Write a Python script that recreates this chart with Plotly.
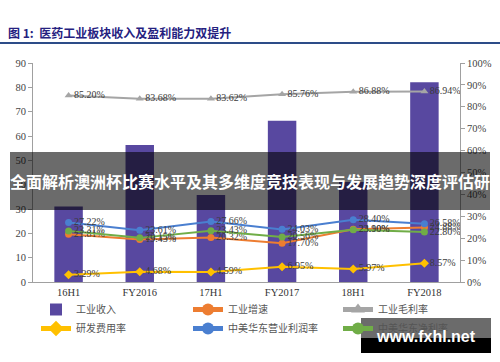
import plotly.graph_objects as go

# ---------------- data ----------------
categories = ["16H1", "FY2016", "17H1", "FY2017", "18H1", "FY2018"]
revenue = [31.0, 56.3, 35.8, 66.3, 41.1, 82.1]              # 工业收入 (left axis)
growth = [21.81, 19.43, 20.32, 17.70, 24.10, 24.88]         # 工业增速 (%)
gross_margin = [85.20, 83.68, 83.62, 85.76, 86.88, 86.94]   # 工业毛利率 (%)
rd_ratio = [3.29, 4.68, 4.59, 6.95, 5.97, 8.57]             # 研发费用率 (%)
op_margin = [27.22, 23.61, 27.66, 24.03, 28.40, 26.58]      # 中美华东营业利润率 (%)
net_margin = [23.31, 20.15, 23.43, 20.56, 23.90, 22.80]     # 中美华东净利率 (%)

left_ticks = [0, 10, 20, 30, 40, 50, 60, 70, 80, 90]
right_ticks = [0, 10, 20, 30, 40, 50, 60, 70, 80, 90, 100]
right_tick_labels = [f"{v}%" for v in right_ticks]

title_text = "图 1:  医药工业板块收入及盈利能力双提升"
banner_text = "全面解析澳洲杯比赛水平及其多维度竞技表现与发展趋势深度评估研"
watermark_text = "www.fxhl.net"

# ---------------- layout helpers (pixel -> paper) ----------------
W, H = 500, 362
L, R, T, B = 33, 40, 63, 80
PW, PH = W - L - R, H - T - B


def px(x):
    return (x - L) / PW


def py(y):
    return (H - B - y) / PH


SERIF = "Liberation Serif, Times New Roman, serif"
CJK = "Noto Sans CJK SC, sans-serif"

fig = go.Figure()

fig.add_trace(go.Bar(
    x=categories, y=revenue, name="工业收入",
    marker=dict(color="#5848a0", line=dict(width=0)),
    width=0.4, yaxis="y", legend="legend",
))


def line_trace(vals, name, color, symbol, legend, msize=7):
    return go.Scatter(
        x=categories, y=vals, name=name, yaxis="y2", legend=legend,
        mode="lines+markers+text",
        line=dict(color=color, width=2),
        marker=dict(color=color, size=msize, symbol=symbol),
        text=[f"{v:.2f}%" for v in vals],
        textposition="middle right",
        textfont=dict(family=SERIF, size=10, color="#3a3a3a"),
        cliponaxis=False,
    )


fig.add_trace(line_trace(growth, "工业增速", "#ed7d31", "circle", "legend2"))
fig.add_trace(line_trace(gross_margin, "工业毛利率", "#a5a5a5", "triangle-up", "legend3"))
fig.add_trace(line_trace(rd_ratio, "研发费用率", "#ffc000", "diamond", "legend"))
fig.add_trace(line_trace(op_margin, "中美华东营业利润率", "#4a7fd0", "circle", "legend2"))
fig.add_trace(line_trace(net_margin, "中美华东净利率", "#70ad47", "circle", "legend3"))

legend_common = dict(
    orientation="v", xanchor="left", yanchor="top",
    font=dict(family=CJK, size=10, color="#555555"),
    bgcolor="rgba(0,0,0,0)", itemsizing="constant",
    traceorder="normal", tracegroupgap=0,
)

fig.update_layout(
    width=W, height=H,
    margin=dict(l=L, r=R, t=T, b=B, pad=0, autoexpand=False),
    paper_bgcolor="white", plot_bgcolor="white",
    showlegend=True,
    bargap=0.6,
    xaxis=dict(
        showline=True, linecolor="#a0a0a0", linewidth=1,
        showgrid=False, ticks="",
        tickfont=dict(family=SERIF, size=10.5, color="#333333"),
    ),
    yaxis=dict(
        range=[0, 90], tickvals=left_ticks,
        showline=True, linecolor="#a0a0a0", linewidth=1,
        showgrid=False, zeroline=False,
        ticks="outside", ticklen=4, tickcolor="#a0a0a0",
        tickfont=dict(family=SERIF, size=10.5, color="#444444"),
    ),
    yaxis2=dict(
        range=[0, 100], tickmode="array", tickvals=right_ticks,
        ticktext=right_tick_labels,
        overlaying="y", side="right",
        showline=True, linecolor="#a0a0a0", linewidth=1,
        showgrid=False, zeroline=False,
        ticks="outside", ticklen=4, tickcolor="#a0a0a0",
        tickfont=dict(family=SERIF, size=10.5, color="#444444"),
    ),
    legend=dict(x=px(36), y=py(295), **legend_common),
    legend2=dict(x=px(188), y=py(295), **legend_common),
    legend3=dict(x=px(338), y=py(295), **legend_common),
)

# title + rule
fig.add_annotation(
    xref="paper", yref="paper", x=px(6), y=py(33),
    xanchor="left", yanchor="middle", showarrow=False,
    text=f"<b>{title_text}</b>",
    font=dict(family=CJK, size=12, color="#25217f"),
)
fig.add_shape(type="line", xref="paper", yref="paper",
              x0=px(0), x1=px(500), y0=py(43), y1=py(43),
              line=dict(color="#2d4c88", width=2))

# banner overlay
fig.add_shape(type="rect", xref="paper", yref="paper",
              x0=px(10), x1=px(490), y0=py(210), y1=py(152),
              fillcolor="rgba(0,0,0,0.58)", line=dict(width=0), layer="above")
fig.add_annotation(
    xref="paper", yref="paper", x=px(250), y=py(181),
    xanchor="center", yanchor="middle", showarrow=False,
    text=f"<b>{banner_text}</b>",
    font=dict(family=CJK, size=16, color="white"),
)

# watermark
fig.add_shape(type="rect", xref="paper", yref="paper",
              x0=px(361), x1=px(491), y0=py(338), y1=py(318),
              fillcolor="rgba(0,0,0,0.58)", line=dict(width=0), layer="above")
fig.add_shape(type="rect", xref="paper", yref="paper",
              x0=px(361), x1=px(491), y0=py(353), y1=py(338),
              fillcolor="black", line=dict(width=0), layer="above")
fig.add_annotation(
    xref="paper", yref="paper", x=px(426), y=py(336),
    xanchor="center", yanchor="middle", showarrow=False,
    text=f"<b>{watermark_text}</b>",
    font=dict(family="Liberation Sans, Arial, sans-serif", size=16, color="white"),
)

fig.write_html("out.html",
               config={"displayModeBar": False},
               post_script="document.body.style.margin='0';document.body.style.padding='0';")
